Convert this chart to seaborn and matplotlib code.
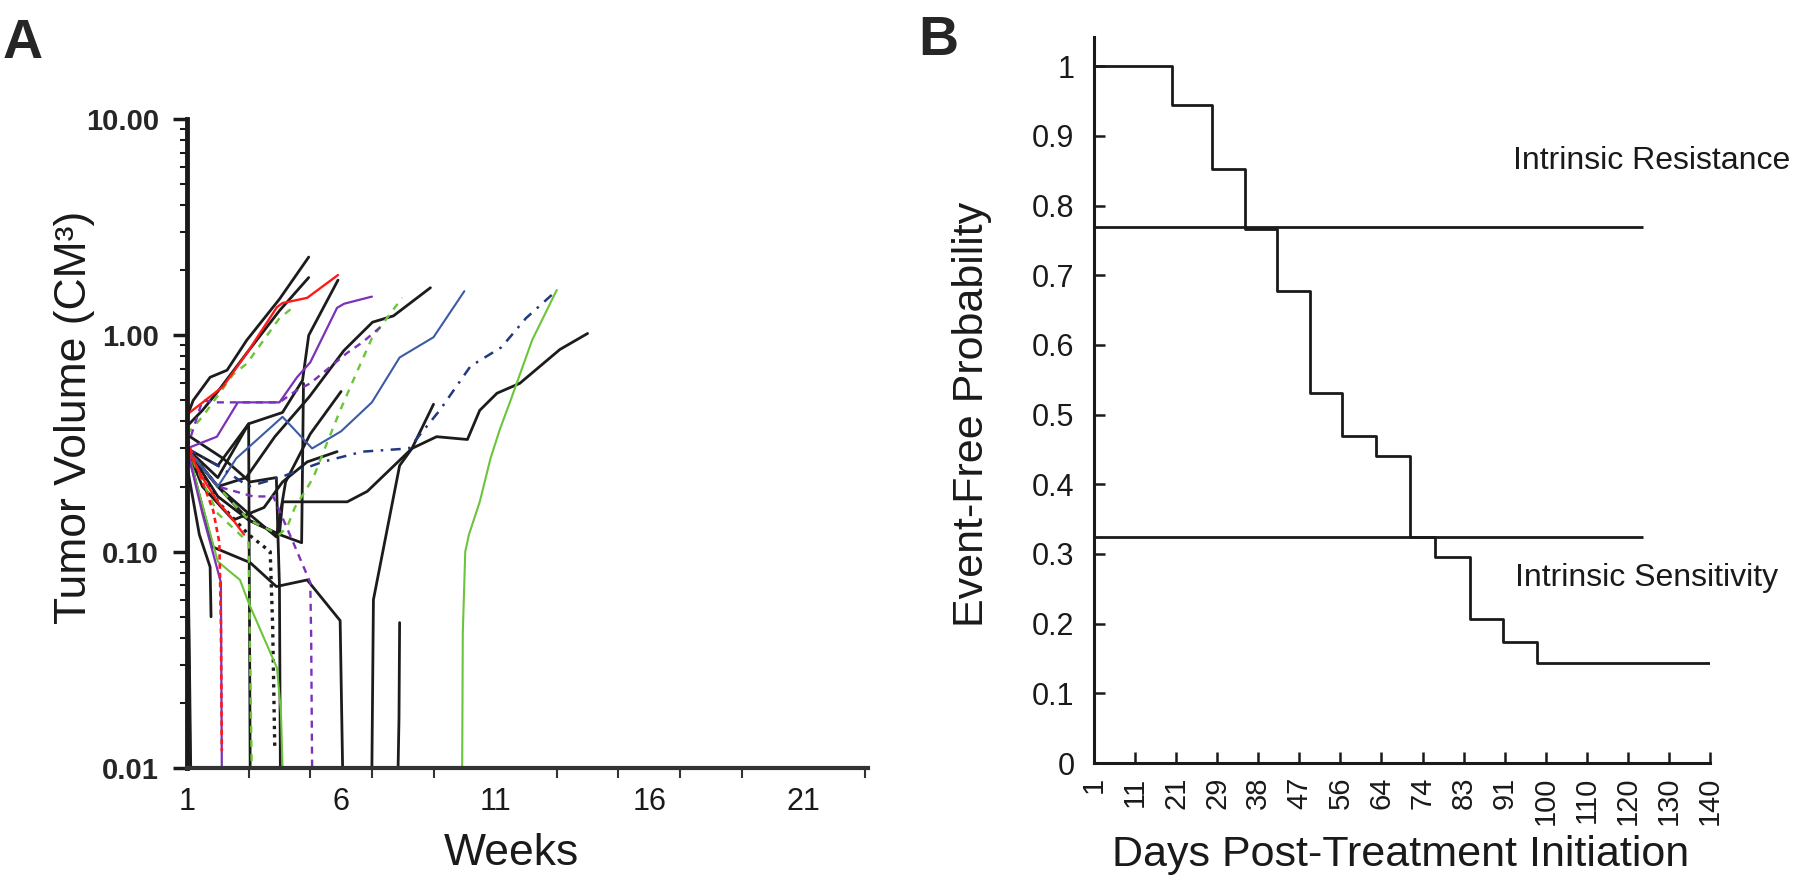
import numpy as np
import pandas as pd
import matplotlib
matplotlib.use("Agg")
import matplotlib.pyplot as plt
import matplotlib.ticker as mticker
import seaborn as sns

# ---- Panel A: tumor volume per mouse (weeks, cm^3) ----
black_weeks = [
    [1, 1.2, 1.75, 2.3, 2.94, 4.0, 4.95],
    [1, 1.5, 2, 3, 4, 4.95],
    [1, 2, 3, 4, 4.72, 4.78],
    [1, 2, 2.92, 3.85, 4.97, 6.09, 7.02, 7.7, 8.9],
    [1, 2, 3, 4, 4.1, 6.2, 6.85, 8.3, 9.1, 10.1, 10.5, 11.06, 11.8, 13.1, 14.0],
    [1, 1.5, 2.5, 3.5, 4.1, 4.9, 5.87],
    [1, 2, 3, 3.9, 4.2, 5, 6],
    [1, 1.84, 3.05, 3.9, 4.9, 5.97, 6.05],
    [1, 2, 3.0, 3.05],
    [1, 2, 3.0, 4.1, 4.75, 4.95, 5.9],
    [1, 1.1, 2.17, 3.05, 3.9, 3.95, 4.0, 4.03],
    [1, 1.05, 1.1],
    [1, 1.08, 1.12],
    [1, 1.4, 1.75, 1.78],
    [7.0, 7.05, 7.9, 8.3, 9.0],
    [7.85, 7.88, 7.9],
]
black_vols = [
    [0.42, 0.5, 0.64, 0.69, 0.95, 1.47, 2.3],
    [0.38, 0.45, 0.55, 0.85, 1.3, 1.85],
    [0.3, 0.18, 0.14, 0.12, 0.11, 0.6],
    [0.3, 0.2, 0.22, 0.34, 0.52, 0.85, 1.15, 1.23, 1.66],
    [0.3, 0.2, 0.14, 0.12, 0.17, 0.17, 0.19, 0.30, 0.34, 0.33, 0.45, 0.54, 0.6, 0.86, 1.02],
    [0.3, 0.2, 0.14, 0.16, 0.21, 0.26, 0.29],
    [0.3, 0.2, 0.15, 0.117, 0.21, 0.35, 0.55],
    [0.3, 0.105, 0.089, 0.069, 0.074, 0.048, 0.01],
    [0.3, 0.22, 0.39, 0.01],
    [0.3, 0.25, 0.39, 0.44, 0.62, 1.0, 1.8],
    [0.34, 0.34, 0.27, 0.21, 0.22, 0.12, 0.07, 0.01],
    [0.25, 0.05, 0.01],
    [0.2, 0.03, 0.01],
    [0.25, 0.12, 0.085, 0.05],
    [0.01, 0.06, 0.25, 0.3, 0.48],
    [0.01, 0.017, 0.047],
]
black_dot_weeks = [1, 2, 3, 3.7, 3.78, 3.85]
black_dot_vols = [0.3, 0.17, 0.12, 0.1, 0.045, 0.012]

red_weeks = [[1, 2.17, 2.95, 3.92, 4.1, 4.9, 5.9], [1, 1.5, 2, 2.5, 2.85]]
red_vols = [[0.43, 0.58, 0.83, 1.35, 1.41, 1.49, 1.9], [0.3, 0.22, 0.17, 0.14, 0.12]]
red_dash_weeks = [1, 1.4, 1.85, 2.05, 2.1, 2.13]
red_dash_vols = [0.33, 0.23, 0.155, 0.11, 0.047, 0.012]

purple_weeks = [[1, 1.97, 2.65, 4.0, 4.57, 5.0, 5.87, 6.1, 7.0], [1, 1.5, 2.1, 2.13]]
purple_vols = [[0.3, 0.34, 0.49, 0.49, 0.64, 0.75, 1.34, 1.4, 1.51], [0.3, 0.15, 0.072, 0.01]]
purple_dash_weeks = [
    [1, 1.5, 2.0, 2.6, 4.0, 4.5, 5.0, 6.2, 6.7, 7.27],
    [1, 2, 3.15, 3.8, 4.45, 5.0, 5.03, 5.06],
    [1, 1.04, 1.06],
]
purple_dash_vols = [
    [0.3, 0.5, 0.49, 0.49, 0.49, 0.55, 0.6, 0.83, 0.93, 1.09],
    [0.3, 0.2, 0.18, 0.18, 0.11, 0.072, 0.04, 0.01],
    [0.2, 0.05, 0.01],
]

green_weeks = [
    [9.93, 9.95, 10.03, 10.15, 10.5, 10.85, 11.16, 11.5, 12.2, 13.0],
    [1, 2, 2.72, 3.0, 3.92, 4.05, 4.1],
]
green_vols = [
    [0.01, 0.042, 0.1, 0.12, 0.17, 0.27, 0.37, 0.5, 0.95, 1.62],
    [0.3, 0.09, 0.074, 0.058, 0.029, 0.018, 0.01],
]
green_dash_weeks = [
    [1, 1.5, 2.5, 2.94, 4.0, 4.45],
    [1, 2, 3, 4, 4.25, 4.5, 4.83, 5.1, 5.55, 6.0, 6.5, 7.0, 7.98],
    [1, 2, 3.0, 3.05, 3.1],
]
green_dash_vols = [
    [0.35, 0.42, 0.66, 0.74, 1.2, 1.35],
    [0.3, 0.2, 0.14, 0.12, 0.13, 0.16, 0.19, 0.22, 0.32, 0.46, 0.67, 0.97, 1.49],
    [0.3, 0.15, 0.11, 0.03, 0.01],
]

blue_weeks = [1, 2, 2.6, 4.1, 5.06, 6.0, 7.0, 7.9, 9.0, 10.0]
blue_vols = [0.3, 0.2, 0.27, 0.42, 0.3, 0.36, 0.49, 0.79, 0.98, 1.6]
blue_dash_weeks = [1, 2, 3, 4, 5.4, 6.7, 8.2, 9.2, 10.2, 11.2, 12, 12.95]
blue_dash_vols = [0.3, 0.25, 0.2, 0.22, 0.26, 0.29, 0.30, 0.45, 0.72, 0.88, 1.2, 1.59]

week_ticks = [1, 6, 11, 16, 21]
vol_ticks = [0.01, 0.1, 1, 10]
vol_labels = ["0.01", "0.10", "1.00", "10.00"]

# ---- Panel B: Kaplan-Meier event-free probability ----
day_labels = [1, 11, 21, 29, 38, 47, 56, 64, 74, 83, 91, 100, 110, 120, 130, 140]
event_days = [1, 20, 28, 35, 42, 49.4, 56.3, 63, 71, 76.8, 84.3, 90.7, 98, 140]
event_free = [1, 0.944, 0.853, 0.767, 0.677, 0.531, 0.469, 0.440, 0.325, 0.296, 0.206, 0.174, 0.144, 0.144]
resistance_level = 0.77
sensitivity_level = 0.325
threshold_end_day = 123.6

sns.set_style("white")
plt.rcParams["font.family"] = ["Liberation Sans", "DejaVu Sans"]
ink = "#1a1a1a"

fig = plt.figure(figsize=(18, 8.8), dpi=100)
axA = fig.add_axes([187 / 1800, 1 - 768 / 880, 681 / 1800, 649 / 880])
axB = fig.add_axes([1094 / 1800, 1 - 763 / 880, 616 / 1800, 726 / 880])


def draw(ax, weeks, vols, color, ls, lw):
    df = pd.DataFrame({"week": weeks, "vol": vols})
    sns.lineplot(data=df, x="week", y="vol", ax=ax, color=color, linestyle=ls,
                 linewidth=lw, sort=False, estimator=None)


blk, red, pur, grn, blu, nvy = "#1c1c1c", "#ff1a1a", "#7a32b8", "#6cc43a", "#3b5ba5", "#22387f"
for w, v in zip(black_weeks, black_vols):
    draw(axA, w, v, blk, "-", 2.0)
draw(axA, black_dot_weeks, black_dot_vols, blk, (0, (1, 1.5)), 2.4)
for w, v in zip(green_weeks, green_vols):
    draw(axA, w, v, grn, "-", 1.5)
for w, v in zip(green_dash_weeks, green_dash_vols):
    draw(axA, w, v, grn, (0, (3, 3)), 1.7)
for w, v in zip(purple_weeks, purple_vols):
    draw(axA, w, v, pur, "-", 1.6)
for w, v in zip(purple_dash_weeks, purple_dash_vols):
    draw(axA, w, v, pur, (0, (3, 2.5)), 1.7)
draw(axA, blue_weeks, blue_vols, blu, "-", 1.5)
draw(axA, blue_dash_weeks, blue_dash_vols, nvy, (0, (4, 3, 1, 3)), 1.8)
for w, v in zip(red_weeks, red_vols):
    draw(axA, w, v, red, "-", 1.7)
draw(axA, red_dash_weeks, red_dash_vols, red, (0, (2, 1.5)), 1.9)

axA.set_yscale("log")
axA.set_ylim(0.01, 10)
axA.set_xlim(1, 23.1)
axA.set_yticks(vol_ticks)
axA.set_yticklabels(vol_labels, fontweight="bold", fontsize=21)
axA.yaxis.set_minor_locator(mticker.LogLocator(base=10, subs=np.arange(2, 10)))
axA.yaxis.set_minor_formatter(mticker.NullFormatter())
axA.set_xticks(week_ticks)
axA.set_xticks(np.arange(1, 24, 2), minor=True)
axA.tick_params(bottom=True, left=True, which="both")
axA.tick_params(axis="x", which="major", length=0, labelsize=22, pad=14, labelcolor=ink)
axA.tick_params(axis="x", which="minor", length=7, width=1.5, direction="out", color="#333333")
axA.tick_params(axis="y", which="major", length=10, width=2.5, direction="out", color=ink, pad=10)
axA.tick_params(axis="y", which="minor", length=5, width=1.5, direction="out", color=ink)
for s in ["top", "right"]:
    axA.spines[s].set_visible(False)
axA.spines["left"].set_linewidth(3.5)
axA.spines["left"].set_color(ink)
axA.spines["bottom"].set_linewidth(3)
axA.spines["bottom"].set_color("#333333")
axA.set_xlabel("Weeks", fontsize=32, color=ink)
axA.set_ylabel("Tumor Volume (CM³)", fontsize=32, color=ink)
axA.xaxis.set_label_coords(0.476, -0.10)
axA.yaxis.set_label_coords(-0.135, 0.54)

# panel B
pos = np.arange(len(day_labels))
km_pos = np.interp(event_days, day_labels, pos)
end_pos = np.interp(threshold_end_day, day_labels, pos)
sns.lineplot(x=km_pos, y=event_free, ax=axB, color=ink, linewidth=2,
             drawstyle="steps-post", sort=False, estimator=None)
axB.hlines([resistance_level, sensitivity_level], 0, end_pos, color=ink, linewidth=2)
axB.text(10.2, 0.864, "Intrinsic Resistance", fontsize=23, color=ink, va="center", ha="left", clip_on=False)
axB.text(10.25, 0.265, "Intrinsic Sensitivity", fontsize=23, color=ink, va="center", ha="left", clip_on=False)

axB.set_xlim(0, 15)
axB.set_ylim(0, 1.042)
axB.set_xticks(pos)
axB.set_xticklabels([str(d) for d in day_labels], rotation=90, fontsize=21, color=ink)
axB.set_yticks(np.round(np.arange(0, 1.01, 0.1), 1))
axB.set_yticklabels(["0"] + [f"{t:.1f}" for t in np.arange(0.1, 0.95, 0.1)] + ["1"], fontsize=22, color=ink)
axB.tick_params(bottom=True, left=True)
axB.tick_params(axis="both", direction="in", length=8, width=1.8, color=ink)
axB.tick_params(axis="y", pad=14)
axB.tick_params(axis="x", pad=10)
for s in ["top", "right"]:
    axB.spines[s].set_visible(False)
for s in ["left", "bottom"]:
    axB.spines[s].set_linewidth(2.2)
    axB.spines[s].set_color(ink)
axB.set_xlabel("Days Post-Treatment Initiation", fontsize=31, color=ink)
axB.set_ylabel("Event-Free Probability", fontsize=31, color=ink)
axB.xaxis.set_label_coords(0.497, -0.099)
axB.yaxis.set_label_coords(-0.166, 0.48)

fig.text(3 / 1800, 1 - 18 / 880, "A", fontsize=40, fontweight="bold", va="top", ha="left")
fig.text(918 / 1800, 1 - 15 / 880, "B", fontsize=40, fontweight="bold", va="top", ha="left")

fig.savefig("out.png", dpi=100)
